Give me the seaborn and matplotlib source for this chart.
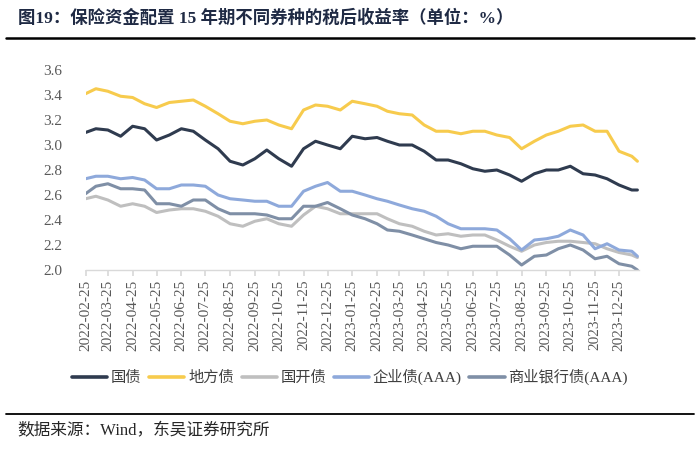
import pandas as pd
import seaborn as sns
import matplotlib.pyplot as plt
import matplotlib.dates as mdates
from matplotlib.lines import Line2D

# 1. DATA (twice a month)
dates = [
    "2022-02-25", "2022-03-10", "2022-03-25", "2022-04-10", "2022-04-25", "2022-05-10",
    "2022-05-25", "2022-06-10", "2022-06-25", "2022-07-10", "2022-07-25", "2022-08-10",
    "2022-08-25", "2022-09-10", "2022-09-25", "2022-10-10", "2022-10-25", "2022-11-10",
    "2022-11-25", "2022-12-10", "2022-12-25", "2023-01-10", "2023-01-25", "2023-02-10",
    "2023-02-25", "2023-03-10", "2023-03-25", "2023-04-10", "2023-04-25", "2023-05-10",
    "2023-05-25", "2023-06-10", "2023-06-25", "2023-07-10", "2023-07-25", "2023-08-10",
    "2023-08-25", "2023-09-10", "2023-09-25", "2023-10-10", "2023-10-25", "2023-11-10",
    "2023-11-25", "2023-12-10", "2023-12-25", "2024-01-10", "2024-01-17",
]

guozhai = [3.10, 3.13, 3.12, 3.07, 3.15, 3.13, 3.04, 3.08, 3.13, 3.11, 3.04, 2.97,
           2.87, 2.84, 2.89, 2.96, 2.89, 2.83, 2.97, 3.03, 3.00, 2.97, 3.07, 3.05,
           3.06, 3.03, 3.00, 3.00, 2.95, 2.88, 2.88, 2.85, 2.81, 2.79, 2.80, 2.76,
           2.71, 2.77, 2.80, 2.80, 2.83, 2.77, 2.76, 2.73, 2.68, 2.64, 2.64]
difangzhai = [3.41, 3.45, 3.43, 3.39, 3.38, 3.33, 3.30, 3.34, 3.35, 3.36, 3.31, 3.25,
              3.19, 3.17, 3.19, 3.20, 3.16, 3.13, 3.28, 3.32, 3.31, 3.28, 3.35, 3.33,
              3.31, 3.27, 3.25, 3.24, 3.16, 3.11, 3.11, 3.09, 3.11, 3.11, 3.08, 3.06,
              2.97, 3.03, 3.08, 3.11, 3.15, 3.16, 3.11, 3.11, 2.95, 2.91, 2.87]
guokaizhai = [2.57, 2.59, 2.56, 2.51, 2.53, 2.51, 2.46, 2.48, 2.49, 2.49, 2.47, 2.43,
              2.37, 2.35, 2.39, 2.41, 2.37, 2.35, 2.44, 2.51, 2.49, 2.45, 2.45, 2.45,
              2.45, 2.41, 2.37, 2.35, 2.31, 2.28, 2.29, 2.27, 2.28, 2.28, 2.24, 2.19,
              2.15, 2.20, 2.22, 2.23, 2.23, 2.22, 2.21, 2.17, 2.14, 2.12, 2.10]
qiyezhai = [2.73, 2.75, 2.75, 2.73, 2.74, 2.72, 2.65, 2.65, 2.68, 2.68, 2.67, 2.60,
            2.57, 2.56, 2.55, 2.55, 2.51, 2.51, 2.63, 2.67, 2.70, 2.63, 2.63, 2.60,
            2.57, 2.55, 2.52, 2.49, 2.47, 2.43, 2.37, 2.33, 2.33, 2.33, 2.32, 2.25,
            2.16, 2.24, 2.25, 2.27, 2.32, 2.28, 2.17, 2.21, 2.16, 2.15, 2.11]
yinhangzhai = [2.61, 2.67, 2.69, 2.65, 2.65, 2.64, 2.53, 2.53, 2.51, 2.56, 2.56, 2.49,
               2.45, 2.45, 2.45, 2.44, 2.41, 2.41, 2.51, 2.51, 2.54, 2.49, 2.44, 2.41,
               2.37, 2.32, 2.31, 2.28, 2.25, 2.22, 2.20, 2.17, 2.19, 2.19, 2.19, 2.12,
               2.04, 2.11, 2.12, 2.17, 2.20, 2.16, 2.09, 2.11, 2.05, 2.03, 2.00]

series_names = ["国债", "地方债", "国开债", "企业债(AAA)", "商业银行债(AAA)"]
colors = ["#2F3B4F", "#F7CB4D", "#BFBFBF", "#8EA9DB", "#7F8FA6"]

# monthly ticks on the 25th, 2022-02-25 .. 2023-12-25
tick_dates = pd.date_range("2022-02-01", "2023-12-01", freq="MS") + pd.Timedelta(days=24)

df = pd.DataFrame({"date": pd.to_datetime(dates)})
for name, vals in zip(series_names, [guozhai, difangzhai, guokaizhai, qiyezhai, yinhangzhai]):
    df[name] = vals
long = df.melt(id_vars="date", var_name="series", value_name="value")

# 2. PLOT
sns.set_theme(style="white")
plt.rcParams["font.family"] = ["Liberation Serif", "Noto Sans CJK SC"]

fig = plt.figure(figsize=(7.0, 4.49), dpi=100)
ax = fig.add_axes([85.5 / 700, 1 - 270 / 449, (639 - 85.5) / 700, 200 / 449])

sns.lineplot(data=long, x="date", y="value", hue="series", hue_order=series_names,
             palette=dict(zip(series_names, colors)), linewidth=2.2, legend=False, ax=ax)

ax.set_xlim(pd.Timestamp("2022-02-25"), pd.Timestamp("2024-01-19"))
ax.set_ylim(2.0, 3.6)
ax.set_yticks([2.0, 2.2, 2.4, 2.6, 2.8, 3.0, 3.2, 3.4, 3.6])
ax.yaxis.set_major_formatter(plt.FuncFormatter(lambda v, p: f"{v:.1f}"))
ax.set_xticks(tick_dates)
ax.xaxis.set_major_formatter(mdates.DateFormatter("%Y-%m-%d"))
ax.set_xlabel("")
ax.set_ylabel("")

for s in ["top", "right", "left"]:
    ax.spines[s].set_visible(False)
ax.spines["bottom"].set_color("#D9D9D9")
ax.spines["bottom"].set_linewidth(1.0)
ax.tick_params(axis="x", bottom=True, length=4, color="#D9D9D9", rotation=90,
               labelsize=11, labelcolor="#595959", pad=3)
ax.tick_params(axis="y", left=False, labelsize=11, labelcolor="#595959", pad=11)

# legend below the dates
handles = [Line2D([], [], color=c, linewidth=2.6) for c in colors]
fig.legend(handles, series_names, loc="center", bbox_to_anchor=(0.5, 1 - 377 / 449),
           ncol=5, frameon=False, fontsize=11, handlelength=2.3, handletextpad=0.25,
           columnspacing=0.5, labelcolor="#404040")

# title, rules and source
fig.text(0.025, 1 - 18 / 449, "图19：保险资金配置 15 年期不同券种的税后收益率（单位：%）",
         fontsize=12.5, fontweight="bold", color="#1F2A44", va="center")
fig.add_artist(Line2D([0.008, 0.992], [1 - 38 / 449] * 2, color="black", linewidth=1.8))
fig.add_artist(Line2D([0.008, 0.992], [1 - 414 / 449] * 2, color="black", linewidth=1.3))
fig.text(0.025, 1 - 431 / 449, "数据来源：Wind，东吴证券研究所", fontsize=12,
         color="#262626", va="center")

plt.savefig("out.png", dpi=100)
